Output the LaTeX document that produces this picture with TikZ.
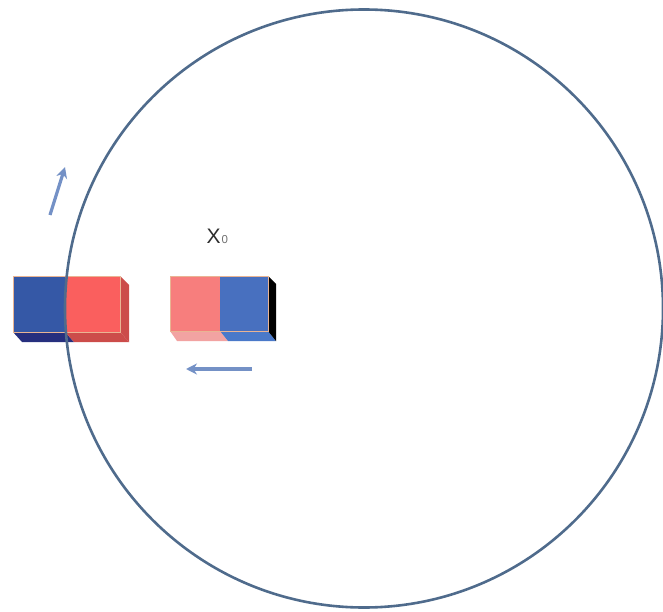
\documentclass[tikz,border=0pt]{standalone}
\usepackage{fontspec}
\setmainfont{Liberation Sans}
\usetikzlibrary{arrows.meta}
\definecolor{ringcol}{HTML}{4F6B8C}
\definecolor{arrcol}{HTML}{7491C6}
\definecolor{lblue}{HTML}{3558A6}
\definecolor{lbluebot}{HTML}{262F7E}
\definecolor{lred}{HTML}{FA5F5E}
\definecolor{lredside}{HTML}{CC4C4A}
\definecolor{rpink}{HTML}{F77E7D}
\definecolor{rpinkbot}{HTML}{F2A3A2}
\definecolor{rblue}{HTML}{4870BF}
\definecolor{rbluebot}{HTML}{4A79C9}
\definecolor{rim}{HTML}{E9B493}
\definecolor{txtcol}{HTML}{2E2E2E}
\definecolor{subcol}{HTML}{707070}
\begin{document}
\begin{tikzpicture}[x=1pt,y=-1pt,
  ring/.style={draw=ringcol,line width=2.6pt},
  motion/.style={draw=arrcol,line width=3.2pt,-{Stealth[length=11pt,width=11pt]}},
  face/.style={draw=rim,line width=0.6pt}]
\useasboundingbox (0,0) rectangle (663,612);
% left magnet
\fill[lbluebot] (13,332) -- (65,332) -- (74,342) -- (22,342) -- cycle;
\fill[lredside] (65,332) -- (120,332) -- (129,342) -- (74,342) -- cycle;
\fill[lredside] (120,276) -- (129,285) -- (129,342) -- (120,332) -- cycle;
\fill[lblue] (13,276) rectangle (65,332);
\fill[lred] (65,276) rectangle (120,332);
\draw[face] (13,276) rectangle (120,332);
% right magnet
\fill[rpinkbot] (170,331) -- (220,331) -- (228,341) -- (177,341) -- cycle;
\fill[rbluebot] (220,331) -- (268,331) -- (276,341) -- (228,341) -- cycle;
\fill[black] (268,276) -- (276,284) -- (276,341) -- (268,331) -- cycle;
\fill[rpink] (170,276) rectangle (220,331);
\fill[rblue] (220,276) rectangle (268,331);
\draw[face] (170,276) rectangle (268,331);
% ring
\node[circle,ring,minimum size=598pt,inner sep=0pt] (ringnode) at (364,308.5) {};
% label
\node[inner sep=0pt,anchor=base west] (xlabel) at (206.5,243.5)
  {\fontsize{21}{21}\selectfont\color{txtcol}X\hspace{1pt}{\fontsize{11.5}{11.5}\selectfont\color{subcol}0}};
% motion arrows
\coordinate (upstart) at (50,215);
\coordinate (uptip) at (65,167);
\coordinate (leftstart) at (252,369);
\coordinate (lefttip) at (186,369);
\draw[motion] (upstart) -- (uptip);
\draw[motion] (leftstart) -- (lefttip);
\end{tikzpicture}
\end{document}
